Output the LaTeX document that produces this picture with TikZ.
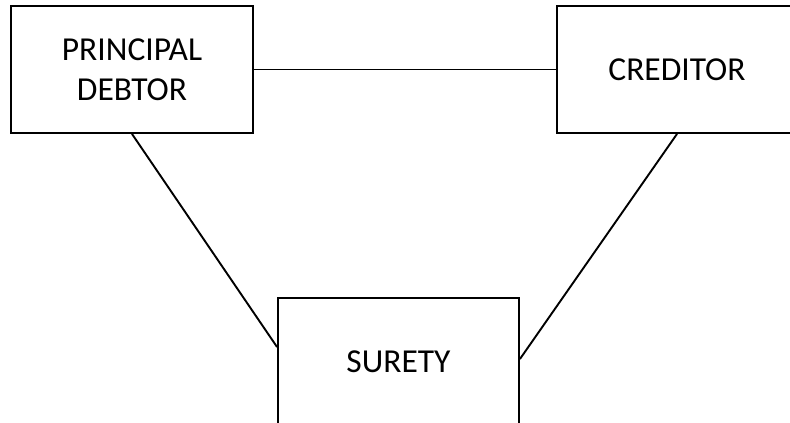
\documentclass[tikz,border=0pt]{standalone}
\usepackage{fontspec}
\setmainfont{Carlito}
\begin{document}
\begin{tikzpicture}[x=1pt,y=-1pt,
  party/.style={draw, line width=1.9pt, align=center, inner sep=0pt,
    minimum height=127pt, font=\fontsize{33.5}{40.5}\selectfont},
  tie/.style={line width=1.9pt}]
  \useasboundingbox (0,0) rectangle (790,423);
  \clip (0,0) rectangle (790,423);
  \node[party, minimum width=242pt] (pd) at (132,69.5) {PRINCIPAL\\DEBTOR};
  \node[party, minimum width=240pt] (cr) at (677,69.5) {CREDITOR};
  \node[party, minimum width=241pt, minimum height=128pt] (su) at (398.5,362) {SURETY};
  \draw[tie] (pd.east) -- (cr.west);
  \draw[tie] (pd.south) -- ([yshift=15pt]su.west);
  \draw[tie] (cr.south) -- ([yshift=3pt]su.east);
\end{tikzpicture}
\end{document}
